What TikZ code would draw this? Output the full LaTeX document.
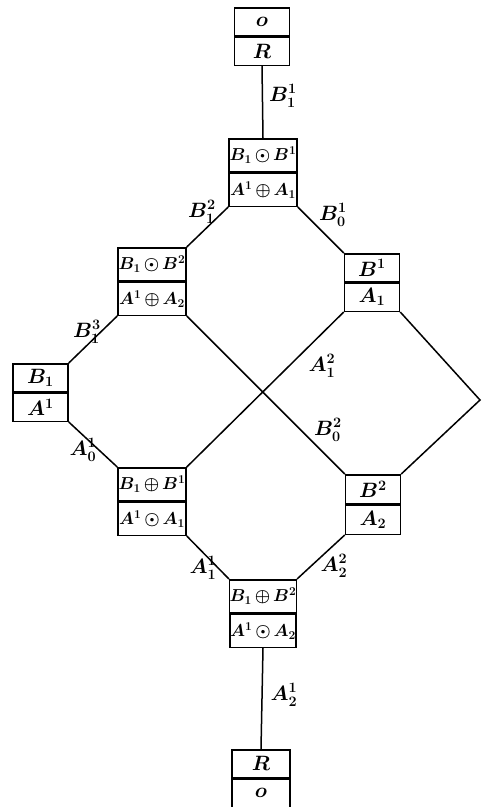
\documentclass[tikz,border=0pt]{standalone}
\usepackage{tikz}
\newcommand{\boxfont}{\fontsize{18}{20}\selectfont\boldmath}
\newcommand{\smallboxfont}{\fontsize{21}{23}\selectfont\boldmath}
\newcommand{\labfont}{\fontsize{21}{23}\selectfont\boldmath}
\newcommand{\op}[1]{\mathbin{\kern-1.5pt#1\kern-1.5pt}}
\tikzset{
  row/.style n args={2}{draw, line width=1.5pt, inner sep=0pt,
     minimum width=#1, minimum height=#2, anchor=north, font=\boxfont},
  srow/.style n args={2}{row={#1}{#2}, font=\smallboxfont},
  edge/.style={line width=1.5pt},
  lab/.style={font=\labfont, inner sep=0pt}
}
\begin{document}
\begin{tikzpicture}[x=1pt,y=-1pt]
\useasboundingbox (0,0) rectangle (490,807);
% boxes
\node[srow={55}{28}] (Tu) at (262,7) {$o$};
\node[srow={55}{28}] (Tl) at (Tu.south) {$R$};
\node[row={68}{33}] (Uu) at (263,138) {$B_1\op\odot B^1$};
\node[row={68}{33}] (Ul) at (Uu.south) {$A^1\op\oplus A_1$};
\node[row={68}{33}] (ULu) at (152,247) {$B_1\op\odot B^2$};
\node[row={68}{33}] (ULl) at (ULu.south) {$A^1\op\oplus A_2$};
\node[srow={55}{28}] (URu) at (372,253) {$B^1$};
\node[srow={55}{28}] (URl) at (URu.south) {$A_1$};
\node[srow={55}{28}] (Lu) at (40.5,363) {$B_1$};
\node[srow={55}{28}] (Ll) at (Lu.south) {$A^1$};
\node[row={68}{33}] (LLu) at (152,467) {$B_1\op\oplus B^1$};
\node[row={68}{33}] (LLl) at (LLu.south) {$A^1\op\odot A_1$};
\node[srow={55}{29}] (LRu) at (373,474) {$B^2$};
\node[srow={55}{29}] (LRl) at (LRu.south) {$A_2$};
\node[row={66}{33}] (Du) at (263,579) {$B_1\op\oplus B^2$};
\node[row={66}{33}] (Dl) at (Du.south) {$A^1\op\odot A_2$};
\node[srow={58}{28}] (Bu) at (261,749) {$R$};
\node[srow={58}{28}] (Bl) at (Bu.south) {$o$};
\coordinate (rc) at (480,400);
% connectors
\draw[edge] (Tl.south) -- (Uu.north);
\draw[edge] (Ul.south west) -- (ULu.north east);
\draw[edge] (Ul.south east) -- (URu.north west);
\draw[edge] (ULl.south west) -- (Lu.north east);
\draw[edge] (ULl.south east) -- (LRu.north west);
\draw[edge] (URl.south west) -- (LLu.north east);
\draw[edge] (URl.south east) -- (rc) -- (LRu.north east);
\draw[edge] (Ll.south east) -- (LLu.north west);
\draw[edge] (LLl.south east) -- (Du.north west);
\draw[edge] (LRl.south west) -- (Du.north east);
\draw[edge] (Dl.south) -- (Bu.north);
% labels
\node[lab] (b11) at (283,96) {$B_1^1$};
\node[lab] (b12) at (202,212) {$B_1^2$};
\node[lab] (b01) at (333,215) {$B_0^1$};
\node[lab] (b13) at (87,332) {$B_1^3$};
\node[lab] (a12) at (322,366) {$A_1^2$};
\node[lab] (b02) at (328,430) {$B_0^2$};
\node[lab] (a01) at (83,450) {$A_0^1$};
\node[lab] (a11) at (203,568) {$A_1^1$};
\node[lab] (a22) at (334,566) {$A_2^2$};
\node[lab] (a21) at (284,695) {$A_2^1$};
\end{tikzpicture}
\end{document}
